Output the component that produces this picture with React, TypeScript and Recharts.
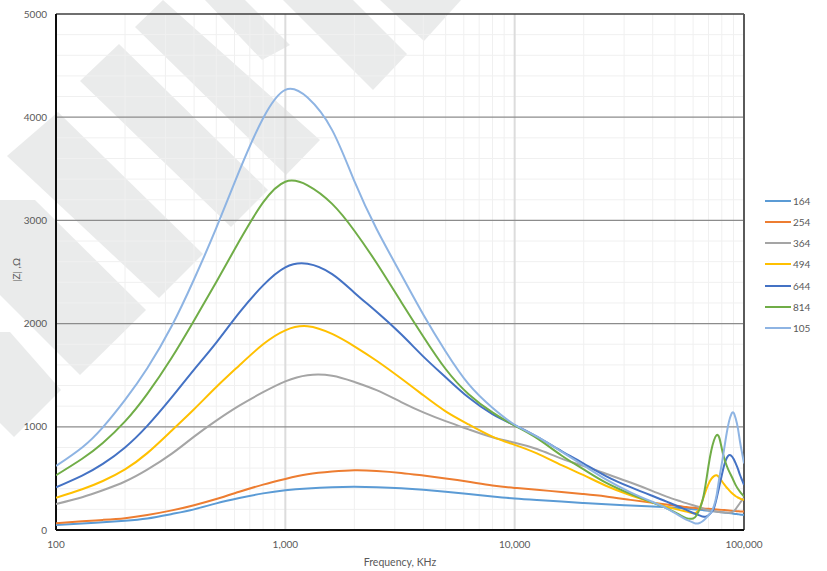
import React from 'react';
import { LineChart, Line, XAxis, YAxis, ReferenceLine, Label } from 'recharts';

// ---------- data ----------
const FREQ = [
  100, 130, 160, 200, 250, 320, 400, 500, 630, 800,
  1000, 1250, 1600, 2000, 2500, 3200, 4000, 5000, 6300, 8000,
  10000, 12500, 16000, 20000, 25000, 32000, 40000, 46000, 52000, 56000,
  60000, 62000, 64000, 66000, 68000, 70000, 72000, 74000, 76000, 78000,
  80000, 82000, 84000, 86000, 88000, 90000, 92000, 94000, 96000, 98000, 100000,
];

const S164 = [
  48, 62, 75, 90, 112, 155, 200, 258, 310, 355,
  385, 403, 415, 419, 415, 405, 390, 370, 348, 325,
  305, 290, 275, 262, 250, 238, 228, 220, 213, 208,
  202, 199, 196, 193, 190, 187, 184, 181, 178, 175,
  172, 169, 166, 164, 161, 158, 155, 153, 150, 148, 145,
];
const S254 = [
  65, 84, 98, 115, 145, 190, 240, 300, 370, 440,
  495, 540, 566, 578, 572, 553, 527, 500, 468, 432,
  408, 390, 368, 348, 325, 292, 263, 246, 232, 222,
  215, 213, 211, 209, 207, 205, 203, 201, 199, 197,
  195, 193, 191, 189, 187, 185, 183, 182, 180, 179, 178,
];
const S364 = [
  252, 318, 385, 470, 585, 740, 905, 1060, 1205, 1335,
  1440, 1500, 1495, 1435, 1355, 1240, 1140, 1055, 975, 898,
  846, 785, 692, 620, 545, 460, 377, 323, 283, 260,
  240, 230, 220, 210, 198, 192, 186, 181, 177, 174,
  171, 169, 167, 166, 170, 183, 203, 232, 262, 288, 310,
];
const S494 = [
  313, 395, 475, 588, 745, 965, 1170, 1385, 1595, 1800,
  1935, 1975, 1900, 1780, 1640, 1468, 1305, 1150, 1023, 905,
  825, 742, 628, 531, 429, 337, 267, 226, 195, 180,
  163, 170, 210, 290, 375, 445, 495, 522, 530, 508,
  475, 442, 412, 387, 363, 343, 327, 315, 305, 297, 290,
];
const S644 = [
  413, 527, 640, 800, 1009, 1287, 1554, 1816, 2106, 2370,
  2545, 2580, 2480, 2300, 2114, 1896, 1680, 1480, 1283, 1123,
  1015, 905, 765, 644, 523, 415, 329, 275, 225, 195,
  165, 152, 142, 131, 128, 142, 170, 215, 310, 420,
  530, 630, 695, 725, 720, 690, 645, 595, 535, 485, 436,
];
const S814 = [
  530, 690, 843, 1052, 1319, 1672, 2031, 2404, 2800, 3174,
  3375, 3340, 3160, 2900, 2587, 2210, 1873, 1560, 1316, 1140,
  1012, 890, 722, 587, 459, 350, 265, 210, 151, 115,
  112, 140, 200, 290, 440, 620, 770, 870, 920, 895,
  790, 695, 625, 570, 525, 480, 435, 400, 372, 347, 325,
];
const S105 = [
  620, 800, 995, 1261, 1567, 1979, 2430, 2927, 3480, 3990,
  4265, 4190, 3875, 3380, 2917, 2476, 2086, 1730, 1413, 1184,
  1020, 905, 760, 625, 490, 365, 271, 210, 141, 100,
  72, 62, 68, 85, 110, 140, 175, 235, 340, 500,
  640, 790, 935, 1050, 1120, 1138, 1080, 990, 860, 750, 645,
];

const SERIES_NAMES = ['164', '254', '364', '494', '644', '814', '105'];
const SERIES_VALUES = [S164, S254, S364, S494, S644, S814, S105];
const SERIES_COLORS = ['#5B9BD5', '#ED7D31', '#A5A5A5', '#FFC000', '#4472C4', '#70AD47', '#8EB4E3'];

const Y_TICKS = [0, 1000, 2000, 3000, 4000, 5000];
const Y_MINOR = [
  200, 400, 600, 800, 1200, 1400, 1600, 1800, 2200, 2400, 2600, 2800,
  3200, 3400, 3600, 3800, 4200, 4400, 4600, 4800,
];
const X_TICKS = [100, 1000, 10000, 100000];
const X_MINOR = [
  200, 300, 400, 500, 600, 700, 800, 900,
  2000, 3000, 4000, 5000, 6000, 7000, 8000, 9000,
  20000, 30000, 40000, 50000, 60000, 70000, 80000, 90000,
];

const rows = FREQ.map((f, i) => {
  const r: Record<string, number> = { f };
  SERIES_NAMES.forEach((n, k) => {
    r['s' + n] = SERIES_VALUES[k][i];
  });
  return r;
});

// ---------- decoration (background watermark) ----------
const WATERMARK: string[] = [
  '135,27 163,0 320,140 286,175',
  '80,81 119,44 268,190 231,227',
  '7,156 58,112 203,254 159,298',
  '0,200 35,200 146,310 80,375 0,295',
  '0,332 10,332 61,390 14,437 0,423',
  '283,0 353,0 407,54 373,90',
  '380,0 461,0 424,41',
  '205,0 245,0 290,45 262,60',
];

const FONT = 'Lato, "Open Sans", sans-serif';
const TXT = '#595959';

function LegendBox() {
  return (
    <div style={{ position: 'absolute', left: 765, top: 190.5, fontFamily: FONT, fontSize: 10, color: TXT }}>
      {SERIES_NAMES.map((n, k) => (
        <div key={n} style={{ display: 'flex', alignItems: 'center', height: 21.15 }}>
          <span style={{ display: 'inline-block', width: 26, height: 2, background: SERIES_COLORS[k], marginRight: 2 }} />
          <span style={{ lineHeight: '10px' }}>{n}</span>
        </div>
      ))}
    </div>
  );
}

export default function App() {
  return (
    <div style={{ position: 'absolute', left: 0, top: 0, width: 827, height: 571, background: '#ffffff', overflow: 'hidden' }}>
      <svg width={827} height={571} style={{ position: 'absolute', left: 0, top: 0 }}>
        {WATERMARK.map((p, i) => (
          <polygon key={i} points={p} fill="#EAEBEB" />
        ))}
      </svg>
      <div style={{ position: 'absolute', left: 0, top: 0 }}>
        <LineChart width={827} height={571} data={rows} margin={{ top: 14, right: 83, bottom: 0, left: 0 }}>
          {Y_MINOR.map((v) => (
            <ReferenceLine key={'ym' + v} y={v} stroke="#F0F0F0" strokeWidth={1} />
          ))}
          {X_MINOR.map((v) => (
            <ReferenceLine key={'xm' + v} x={v} stroke="#F0F0F0" strokeWidth={1} />
          ))}
          <ReferenceLine x={1000} stroke="#DCDCDC" strokeWidth={2} />
          <ReferenceLine x={10000} stroke="#DCDCDC" strokeWidth={2} />
          {[1000, 2000, 3000, 4000].map((v) => (
            <ReferenceLine key={'yM' + v} y={v} stroke="#8C8C8C" strokeWidth={1.2} />
          ))}
          <ReferenceLine y={5000} stroke="#3F3F3F" strokeWidth={1.5} />
          <ReferenceLine x={100000} stroke="#5A5A5A" strokeWidth={2} />
          <ReferenceLine x={100} stroke="#0D0D0D" strokeWidth={2} />
          <ReferenceLine y={0} stroke="#0D0D0D" strokeWidth={2} />
          <XAxis
            dataKey="f"
            type="number"
            scale="log"
            domain={[100, 100000]}
            ticks={X_TICKS}
            allowDataOverflow
            axisLine={false}
            tickLine={false}
            tickSize={0}
            tickMargin={11}
            height={41}
            tickFormatter={(v: number) => v.toLocaleString('en-US')}
            tick={{ fill: TXT, fontSize: 10, fontFamily: FONT }}
          >
            <Label value="Frequency, KHz" position="insideBottom" offset={5} fill={TXT} fontSize={10.5} fontFamily={FONT} />
          </XAxis>
          <YAxis
            type="number"
            domain={[0, 5000]}
            ticks={Y_TICKS}
            allowDataOverflow
            axisLine={false}
            tickLine={false}
            tickSize={0}
            tickMargin={9}
            width={56}
            tick={{ fill: TXT, fontSize: 10, fontFamily: FONT }}
          >
            <Label
              content={() => (
                <text
                  x={16}
                  y={270}
                  transform="rotate(-90 16 270)"
                  textAnchor="middle"
                  dominantBaseline="central"
                  fill={TXT}
                  fontSize={10}
                  fontFamily={FONT}
                >
                  |Z| ,Ω
                </text>
              )}
            />
          </YAxis>
          {SERIES_NAMES.map((n, k) => (
            <Line
              key={n}
              dataKey={'s' + n}
              type="natural"
              stroke={SERIES_COLORS[k]}
              strokeWidth={2}
              dot={false}
              activeDot={false}
              isAnimationActive={false}
            />
          ))}
        </LineChart>
      </div>
      <LegendBox />
    </div>
  );
}
